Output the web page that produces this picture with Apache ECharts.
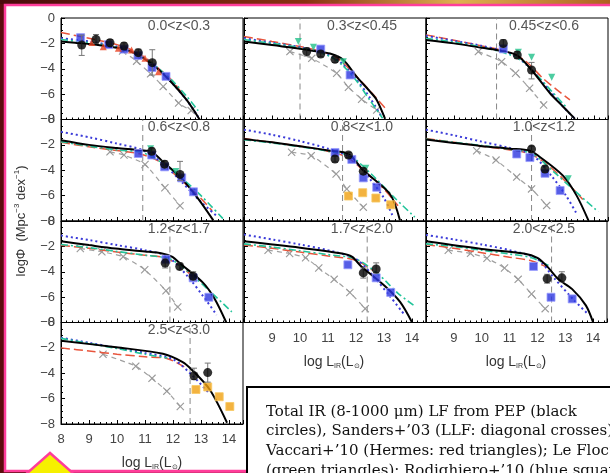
<!DOCTYPE html>
<html><head><meta charset="utf-8">
<script src="https://cdn.jsdelivr.net/npm/echarts@6/dist/echarts.min.js"></script>
<style>html,body{margin:0;padding:0;background:#5c0d0d;overflow:hidden}#c{width:610px;height:473px}</style>
</head><body><div id="c"></div>
<script>
// ---------- data ----------
const zLabels = ['0.0<z<0.3','0.3<z<0.45','0.45<z<0.6','0.6<z<0.8','0.8<z<1.0','1.0<z<1.2','1.2<z<1.7','1.7<z<2.0','2.0<z<2.5','2.5<z<3.0'];
const xTicks = [8,9,10,11,12,13,14];
const yTicks = [0,-2,-4,-6,-8];
// completeness limits (vertical dashed lines)
const limits = [null,10.0,10.52,10.92,11.52,11.77,11.89,12.4,12.51,12.61];

// PEP model fit (black solid line)
const pepModel = [
 [[8,-1.85],[8.5,-1.95],[9,-2.05],[9.5,-2.18],[10,-2.35],[10.5,-2.65],[11,-3.25],[11.5,-4.1],[12,-5.2],[12.5,-6.5],[12.95,-8]],
 [[8,-1.86],[9,-2.12],[9.88,-2.39],[10.5,-2.6],[11.07,-2.8],[11.55,-3.31],[12.02,-4.62],[12.5,-5.8],[12.74,-6.46],[13.04,-7.95]],
 [[8,-1.73],[9,-2.0],[10,-2.35],[10.52,-2.52],[11.24,-2.92],[11.77,-4.1],[12.43,-5.93],[12.9,-6.99],[13.32,-7.95]],
 [[8,-1.63],[9,-2.0],[10,-2.25],[10.82,-2.42],[11.24,-2.55],[11.65,-3.34],[12.25,-4.52],[12.85,-6.1],[13.44,-7.95]],
 [[8,-1.54],[9,-1.8],[10,-2.1],[11.07,-2.46],[11.73,-2.72],[12.26,-4.0],[13.21,-5.87],[13.57,-7.95]],
 [[8,-1.58],[9,-1.85],[10,-2.1],[11,-2.3],[11.71,-2.46],[12.01,-2.86],[12.9,-4.44],[13.38,-6.0],[13.8,-7.95]],
 [[8,-1.6],[9,-1.9],[9.94,-2.17],[11,-2.4],[11.61,-2.56],[11.96,-2.81],[12.31,-3.45],[13.07,-4.86],[13.49,-6.14],[13.9,-7.98]],
 [[8,-1.6],[10,-2.1],[11.5,-2.56],[11.85,-2.81],[12.19,-3.58],[13.03,-5.12],[13.58,-6.39],[14.0,-7.98]],
 [[8,-1.6],[10,-2.2],[11.51,-2.56],[12.0,-2.9],[12.35,-3.58],[12.76,-4.6],[13.25,-5.37],[13.74,-6.65],[14.0,-7.98]],
 [[8,-1.44],[9.97,-1.95],[11.64,-2.46],[12.33,-3.1],[12.68,-3.74],[13.31,-5.28],[13.93,-7.9]]
];
// red long-dashed curve
const redDash = [
 [[8,-1.15],[9,-1.6],[10,-2.1],[10.5,-2.5],[11,-3.1],[11.5,-4.0],[12,-5.0],[12.4,-6.2]],
 [[8,-1.45],[9,-1.85],[10,-2.25],[10.7,-2.6],[11.3,-3.1],[11.8,-4.1],[12.4,-5.5],[13.1,-7.25]],
 [[8,-1.33],[9,-1.75],[10,-2.2],[10.8,-2.6],[11.5,-3.3],[12.2,-4.8],[12.7,-5.7],[13.14,-6.46]],
 [[8,-1.8],[9,-2.15],[10,-2.45],[10.8,-2.7],[11.5,-3.3],[12.2,-4.6],[12.9,-6.0],[13.4,-7.2]],
 [[8,-1.5],[9,-1.8],[10,-2.1],[11,-2.5],[11.7,-3.0],[12.3,-4.1],[13.0,-5.5],[13.5,-6.8]],
 [[8,-1.5],[9,-1.8],[10,-2.1],[11,-2.4],[11.7,-2.7],[12.3,-3.5],[13.0,-4.9],[13.6,-6.3]],
 [[8,-1.92],[9,-2.15],[10,-2.45],[11,-2.7],[11.7,-2.9],[12.3,-3.6],[12.8,-4.6]],
 [[8,-1.9],[9,-2.15],[10,-2.45],[11,-2.75],[12,-3.1],[12.6,-3.9]],
 [[8,-1.85],[9,-2.15],[10,-2.5],[11,-2.85],[11.8,-3.15],[12.3,-3.6]],
 [[8,-2.0],[9,-2.25],[10,-2.5],[11,-2.7],[11.8,-2.85],[12.4,-3.5]]
];
// blue dotted curve
const blueDot = [
 [[8,-1.6],[9,-1.85],[10,-2.25],[10.5,-2.6],[11,-3.2],[11.5,-4.05],[12,-5.2],[12.5,-6.5],[12.9,-7.8]],
 [[8,-1.6],[9,-1.95],[10,-2.3],[11,-2.9],[11.5,-3.6],[12,-4.8],[12.5,-6.3],[12.92,-7.8]],
 [[8,-1.4],[9,-1.8],[10,-2.2],[11,-2.8],[11.6,-3.7],[12.3,-5.4],[12.9,-7.0],[13.3,-7.9]],
 [[8,-0.97],[9,-1.4],[10,-1.9],[10.9,-2.4],[11.6,-3.4],[12.3,-4.9],[13.0,-6.5],[13.56,-7.6]],
 [[8,-0.8],[9,-1.2],[10,-1.7],[11,-2.3],[11.8,-3.0],[12.5,-4.7],[13.0,-6.2],[13.33,-7.7]],
 [[8,-0.8],[9,-1.25],[10,-1.75],[11,-2.25],[11.8,-2.8],[12.5,-4.5],[13.0,-6.0],[13.4,-7.5]],
 [[8,-1.15],[9,-1.5],[10,-1.9],[11,-2.3],[11.8,-2.8],[12.5,-4.3],[13.1,-6.0],[13.56,-7.4]],
 [[8,-1.07],[9,-1.45],[10,-1.85],[11,-2.3],[12,-3.0],[12.6,-4.3],[13.2,-5.9],[13.7,-7.3]],
 [[8,-1.1],[9,-1.45],[10,-1.85],[11,-2.3],[12,-3.0],[12.6,-4.5],[13.3,-6.2],[13.8,-7.3]],
 [[8,-1.2],[9,-1.6],[10,-2.0],[11,-2.4],[12,-2.9],[12.7,-4.2],[13.3,-5.6]]
];
// green dash-dot curve
const greenDashDot = [
 [[8,-1.7],[9,-1.95],[10,-2.3],[11,-3.2],[11.5,-4.0],[12,-5.0],[12.5,-6.2],[12.9,-7.3]],
 [[8,-1.7],[9,-2.0],[10,-2.35],[11,-2.95],[11.5,-3.7],[12,-4.9],[12.5,-6.5],[12.95,-7.9]],
 [[8,-1.6],[9,-1.9],[10,-2.3],[11,-2.9],[11.5,-3.5],[12,-4.6],[12.5,-5.8],[13.0,-7.0]],
 [[8,-1.75],[9,-2.1],[10,-2.4],[10.9,-2.6],[11.6,-3.4],[12.3,-4.6],[13.0,-6.0],[13.8,-7.85]],
 [[8,-1.6],[9,-1.85],[10,-2.15],[11,-2.5],[11.8,-2.9],[12.5,-4.2],[13.3,-6.0],[14.1,-7.7]],
 [[8,-1.55],[9,-1.8],[10,-2.05],[11,-2.35],[11.8,-2.7],[12.5,-4.0],[13.3,-5.6],[14.15,-7.27]],
 [[8,-1.85],[9,-2.1],[10,-2.4],[11,-2.7],[11.9,-3.0],[12.6,-4.1],[13.3,-5.5],[14.1,-7.16]],
 [[8,-1.8],[9,-2.05],[10,-2.35],[11,-2.65],[12,-3.0],[12.8,-4.2],[13.5,-5.7],[14.14,-6.78]],
 [[8,-1.8],[9,-2.0],[10,-2.3],[11,-2.6],[11.8,-2.9],[12.4,-3.5]],
 [[8,-1.25],[9,-1.65],[10,-2.05],[11,-2.5],[11.8,-2.8]]
];
// Sanders+03 local LF (grey dashed with crosses)
const sandersLF = [
 [[10.2,-2.6],[10.7,-3.4],[11.2,-4.4],[11.65,-5.4],[12.2,-6.7],[12.65,-7.3]],
 [[9.64,-2.65],[10.42,-3.18],[11.31,-4.36],[11.73,-5.46],[12.2,-6.4],[12.74,-7.25]],
 [[9.87,-2.65],[10.7,-3.44],[11.2,-4.36],[11.7,-5.54],[12.2,-6.86]],
 [[9.75,-2.55],[10.25,-2.8],[11.0,-3.55],[11.71,-5.38],[12.25,-6.8]],
 [[9.7,-2.58],[10.4,-2.85],[11.29,-4.3],[11.67,-5.48],[12.26,-6.91]],
 [[9.81,-2.46],[10.5,-3.2],[11.24,-4.54],[11.77,-5.47],[12.31,-6.77]],
 [[8.69,-2.17],[9.46,-2.43],[10.22,-2.81],[10.99,-3.84],[11.75,-5.5],[12.17,-6.78]],
 [[8.86,-2.3],[9.63,-2.56],[10.2,-2.9],[10.67,-3.71],[11.22,-4.6],[11.78,-5.63],[12.33,-6.91]],
 [[8.8,-2.3],[9.6,-2.55],[10.19,-2.94],[10.82,-3.71],[11.31,-4.6],[11.79,-5.75],[12.28,-6.91]],
 [[9.5,-2.5],[10.67,-3.44],[11.25,-4.4],[11.78,-5.41],[12.26,-6.62]]
];
// PEP data: [logL, logPhi, errLow, errHigh] (black circles)
const pepPoints = [
 [[8.74,-2.13,-2.95,-1.35],[9.25,-1.68,-2.0,-1.3],[9.75,-1.95,-2.2,-1.7],[10.25,-2.21,-2.45,-1.95],[10.76,-2.73,-3.0,-2.45],[11.26,-3.52,-4.5,-2.5]],
 [[10.24,-2.65,-3.0,-2.35],[10.74,-2.84,-3.05,-2.6],[11.25,-3.26,-3.5,-3.0]],
 [[10.76,-2.0,-2.3,-1.7],[11.26,-2.92,-3.2,-2.65],[11.77,-4.1,-4.8,-3.5]],
 [[11.24,-2.5,-2.75,-2.25],[11.7,-3.52,-3.8,-3.25],[12.25,-4.33,-4.8,-3.3]],
 [[11.25,-3.11,-3.35,-2.9],[11.73,-2.8,-3.0,-2.6],[12.26,-4.07,-4.3,-3.85]],
 [[11.77,-2.33,-2.6,-2.1],[12.25,-3.9,-4.15,-3.65]],
 [[11.72,-3.32,-3.7,-3.0],[12.24,-3.58,-3.85,-3.3],[12.72,-4.35,-4.65,-4.0]],
 [[12.26,-4.09,-4.5,-3.7],[12.72,-3.78,-4.1,-3.3]],
 [[12.35,-4.55,-4.9,-4.2],[12.88,-4.48,-4.8,-4.0]],
 [[12.75,-4.2,-4.5,-3.6],[13.24,-3.95,-4.7,-3.2]]
];
// Rodighiero+10 (blue squares)
const blueSquares = [
 [[8.7,-1.55],[9.7,-2.1],[10.25,-2.45],[10.75,-2.95],[11.25,-3.9],[11.75,-4.6]],
 [[10.74,-2.45],[11.79,-4.49]],
 [[10.76,-2.43]],
 [[10.76,-2.68],[11.24,-2.8],[11.7,-3.73],[12.31,-4.6],[12.73,-5.7]],
 [[11.25,-2.6],[11.85,-3.15],[12.26,-4.6],[12.74,-5.34]],
 [[11.24,-2.72],[11.71,-3.0],[12.25,-4.24],[12.79,-5.6]],
 [[11.75,-3.02],[12.72,-4.48],[13.28,-6.01]],
 [[11.71,-3.45],[12.72,-4.48],[13.24,-5.63]],
 [[11.86,-3.58],[12.49,-6.01],[13.25,-6.14]],
 []
];
// Le Floc'h+05 (green triangles)
const greenTriangles = [
 [],
 [[9.94,-1.86],[10.48,-2.3],[11.55,-3.45]],
 [[11.3,-2.7],[11.77,-3.1],[12.49,-4.67]],
 [[11.2,-2.3],[12.1,-4.1]],
 [[12.35,-3.85]],
 [[13.08,-4.67]],
 [],[],[],[]
];
// Vaccari+10 (red triangles)
const redTriangles = [
 [[9.1,-1.94],[9.51,-2.26],[10.05,-2.39],[10.52,-2.52],[11.0,-3.18],[11.48,-4.23]],
 [],[],[],[],[],[],[],[],[]
];
// orange squares
const orangeSquares = [
 [],[],[],[],
 [[11.73,-6.03],[12.24,-5.77],[12.71,-6.19],[13.24,-6.72]],
 [],[],[],[],
 [[12.82,-5.28],[13.24,-5.08],[13.65,-5.85],[14.03,-6.62]]
];
const noteLines = [
 'Total IR (8-1000 \u03bcm) LF from PEP (black',
 'circles), Sanders+\u201903 (LLF: diagonal crosses),',
 'Vaccari+\u201910 (Hermes: red triangles); Le Floc\u2019h',
 '(green triangles); Rodighiero+\u201910 (blue squares)'
];

// ---------- layout ----------
const colLeft = [61, 244, 426], rowTop = [18, 119.5, 221, 322.5], W = 182, H = 101.5;
const SANS = 'Liberation Sans';
const crossPath = 'path://M0,1L1,0L5,4L9,0L10,1L6,5L10,9L9,10L5,6L1,10L0,9L4,5Z';
function panelPos(i){ return i < 9 ? {r: Math.floor(i/3), c: i%3} : {r: 3, c: 0}; }

const grids = [], xAxes = [], yAxes = [], series = [], graphics = [];

graphics.push({type:'rect', shape:{x:0,y:0,width:610,height:4}, z:-10,
  style:{fill:new echarts.graphic.LinearGradient(0,0,1,0,[{offset:0,color:'#4a0b0b'},{offset:0.5,color:'#8a3010'},{offset:0.75,color:'#e0b050'},{offset:1,color:'#b06020'}])}});
graphics.push({type:'rect', shape:{x:5,y:5,width:640,height:466}, z:-9, style:{fill:'#fff', stroke:'#ff3d9a', lineWidth:2.5}});

for (let i = 0; i < 10; i++) {
  const {r, c} = panelPos(i);
  const showX = (i === 7 || i === 8 || i === 9);
  const showY = (c === 0);
  grids.push({left: colLeft[c], top: rowTop[r], width: W, height: H, show: true,
    borderColor: '#000', borderWidth: 1, backgroundColor: 'rgba(0,0,0,0)'});
  xAxes.push({type: 'value', gridIndex: i, min: 8, max: 14.5, interval: 1,
    axisLine: {onZero: false, lineStyle: {color: '#000', width: 1}},
    axisTick: {inside: true, length: 4, lineStyle: {color: '#000'}},
    minorTick: {show: true, splitNumber: 5, length: 2, lineStyle: {color: '#000'}},
    splitLine: {show: false},
    axisLabel: {show: showX, margin: 9, color: '#444', fontSize: 13, fontFamily: SANS,
      formatter: v => (xTicks.includes(v) && (c === 0 || v > 8)) ? String(v) : ''}});
  yAxes.push({type: 'value', gridIndex: i, min: -8, max: 0, interval: 2,
    axisLine: {onZero: false, lineStyle: {color: '#000', width: 1}},
    axisTick: {inside: true, length: 4, lineStyle: {color: '#000'}},
    minorTick: {show: true, splitNumber: 4, length: 2, lineStyle: {color: '#000'}},
    splitLine: {show: false},
    axisLabel: {show: showY, margin: 6, color: '#444', fontSize: 13, fontFamily: SANS,
      formatter: v => yTicks.includes(v) ? (v === 0 ? '0' : '\u2212' + Math.abs(v)) : ''}});

  const ax = {xAxisIndex: i, yAxisIndex: i};
  series.push(Object.assign({type: 'line', data: sandersLF[i], smooth: 0.2, symbol: crossPath, symbolSize: 8, showSymbol: true,
    itemStyle: {color: '#9a9a9a'}, lineStyle: {color: '#a0a0a0', width: 1.2, type: [5, 4]}, z: 2, silent: true}, ax));
  if (limits[i] !== null) {
    series.push(Object.assign({type: 'line', data: [[limits[i], -8], [limits[i], 0]], showSymbol: false,
      lineStyle: {color: '#888', width: 1, type: [6, 4]}, z: 2, silent: true}, ax));
  }
  series.push(Object.assign({type: 'line', data: redDash[i], smooth: 0.3, showSymbol: false,
    lineStyle: {color: '#e8553c', width: 1.5, type: [9, 4]}, z: 3, silent: true}, ax));
  series.push(Object.assign({type: 'line', data: blueDot[i], smooth: 0.3, showSymbol: false,
    lineStyle: {color: '#3a3ad8', width: 2, type: [2, 3]}, z: 3, silent: true}, ax));
  series.push(Object.assign({type: 'line', data: greenDashDot[i], smooth: 0.3, showSymbol: false,
    lineStyle: {color: '#22c49a', width: 1.6, type: [7, 3, 2, 3]}, z: 3, silent: true}, ax));
  series.push(Object.assign({type: 'line', data: pepModel[i], smooth: 0.3, showSymbol: false,
    lineStyle: {color: '#000', width: 2}, z: 4, silent: true}, ax));
  series.push(Object.assign({type: 'scatter', data: orangeSquares[i], symbol: 'rect', symbolSize: 8,
    itemStyle: {color: '#f0a010', borderColor: '#f8c860', borderWidth: 1}, z: 5, silent: true}, ax));
  series.push(Object.assign({type: 'scatter', data: blueSquares[i], symbol: 'rect', symbolSize: 8,
    itemStyle: {color: '#2c36e0', borderColor: '#9a9cff', borderWidth: 1}, z: 5, silent: true}, ax));
  series.push(Object.assign({type: 'scatter', data: greenTriangles[i], symbol: 'triangle', symbolRotate: 180, symbolSize: 7,
    itemStyle: {color: '#20c08a'}, z: 5, silent: true}, ax));
  series.push(Object.assign({type: 'scatter', data: redTriangles[i], symbol: 'triangle', symbolSize: 7,
    itemStyle: {color: '#e8401e'}, z: 5, silent: true}, ax));
  series.push(Object.assign({type: 'custom', coordinateSystem: 'cartesian2d', data: pepPoints[i],
    encode: {x: 0, y: [1, 2, 3]}, z: 6, silent: true,
    renderItem: (p, api) => {
      const x = api.value(0), a = api.coord([x, api.value(2)]), b = api.coord([x, api.value(3)]);
      const st = {stroke: '#777', lineWidth: 1};
      return {type: 'group', children: [
        {type: 'line', shape: {x1: a[0], y1: a[1], x2: b[0], y2: b[1]}, style: st},
        {type: 'line', shape: {x1: a[0]-3, y1: a[1], x2: a[0]+3, y2: a[1]}, style: st},
        {type: 'line', shape: {x1: b[0]-3, y1: b[1], x2: b[0]+3, y2: b[1]}, style: st}]};
    }}, ax));
  series.push(Object.assign({type: 'scatter', data: pepPoints[i].map(d => [d[0], d[1]]), symbol: 'circle', symbolSize: 9,
    itemStyle: {color: '#000'}, z: 7, silent: true}, ax));

  graphics.push({type: 'text', x: colLeft[c] + 118, y: rowTop[r] + 8, z: 10,
    style: {text: zLabels[i], fill: '#555', font: '14px "Liberation Sans"', align: 'center', verticalAlign: 'middle'}});
}

// axis titles
const xTitleRich = {a: {fontSize: 14, fontFamily: SANS, fill: '#333', lineHeight: 16},
                    s: {fontSize: 7, fontFamily: SANS, fill: '#333', verticalAlign: 'bottom', lineHeight: 9}};
[[152, 463], [334, 362], [516, 362]].forEach(p => graphics.push({type: 'text', x: p[0], y: p[1], z: 10,
  style: {text: '{a|log L}{s|IR}{a|(L}{s|\u2299}{a|)}', rich: xTitleRich, align: 'center', verticalAlign: 'middle'}}));
graphics.push({type: 'text', x: 21, y: 221, rotation: Math.PI/2, z: 10,
  style: {text: '{a|log\u03a6  (Mpc}{s|\u22123}{a| dex}{s|\u22121}{a|)}', align: 'center', verticalAlign: 'middle',
    rich: {a: {fontSize: 13, fontFamily: SANS, fill: '#333', lineHeight: 16},
           s: {fontSize: 8, fontFamily: SANS, fill: '#333', verticalAlign: 'top', lineHeight: 10}}}});

// note box & decorations
graphics.push({type: 'rect', shape: {x: 247, y: 387, width: 420, height: 120}, z: 20, style: {fill: '#fff', stroke: '#000', lineWidth: 2}});
noteLines.forEach((t, k) => graphics.push({type: 'text', x: 266, y: 412 + k * 19.6, z: 21,
  style: {text: t, fill: '#111', font: '15px "DejaVu Serif"', verticalAlign: 'middle'}}));
graphics.push({type: 'polyline', shape: {points: [[74, 471.5], [612, 471.5]]}, z: 19, style: {stroke: '#ff3d9a', lineWidth: 2.5}});
graphics.push({type: 'polygon', shape: {points: [[25, 475], [50, 453], [75, 475]]}, z: 19, style: {fill: '#f6f000', stroke: '#ff3d9a', lineWidth: 2.5}});

const chart = echarts.init(document.getElementById('c'), null, {renderer: 'canvas'});
chart.setOption({
  backgroundColor: '#5c0d0d',
  animation: false,
  grid: grids, xAxis: xAxes, yAxis: yAxes, series: series, graphic: graphics
});
</script></body></html>
